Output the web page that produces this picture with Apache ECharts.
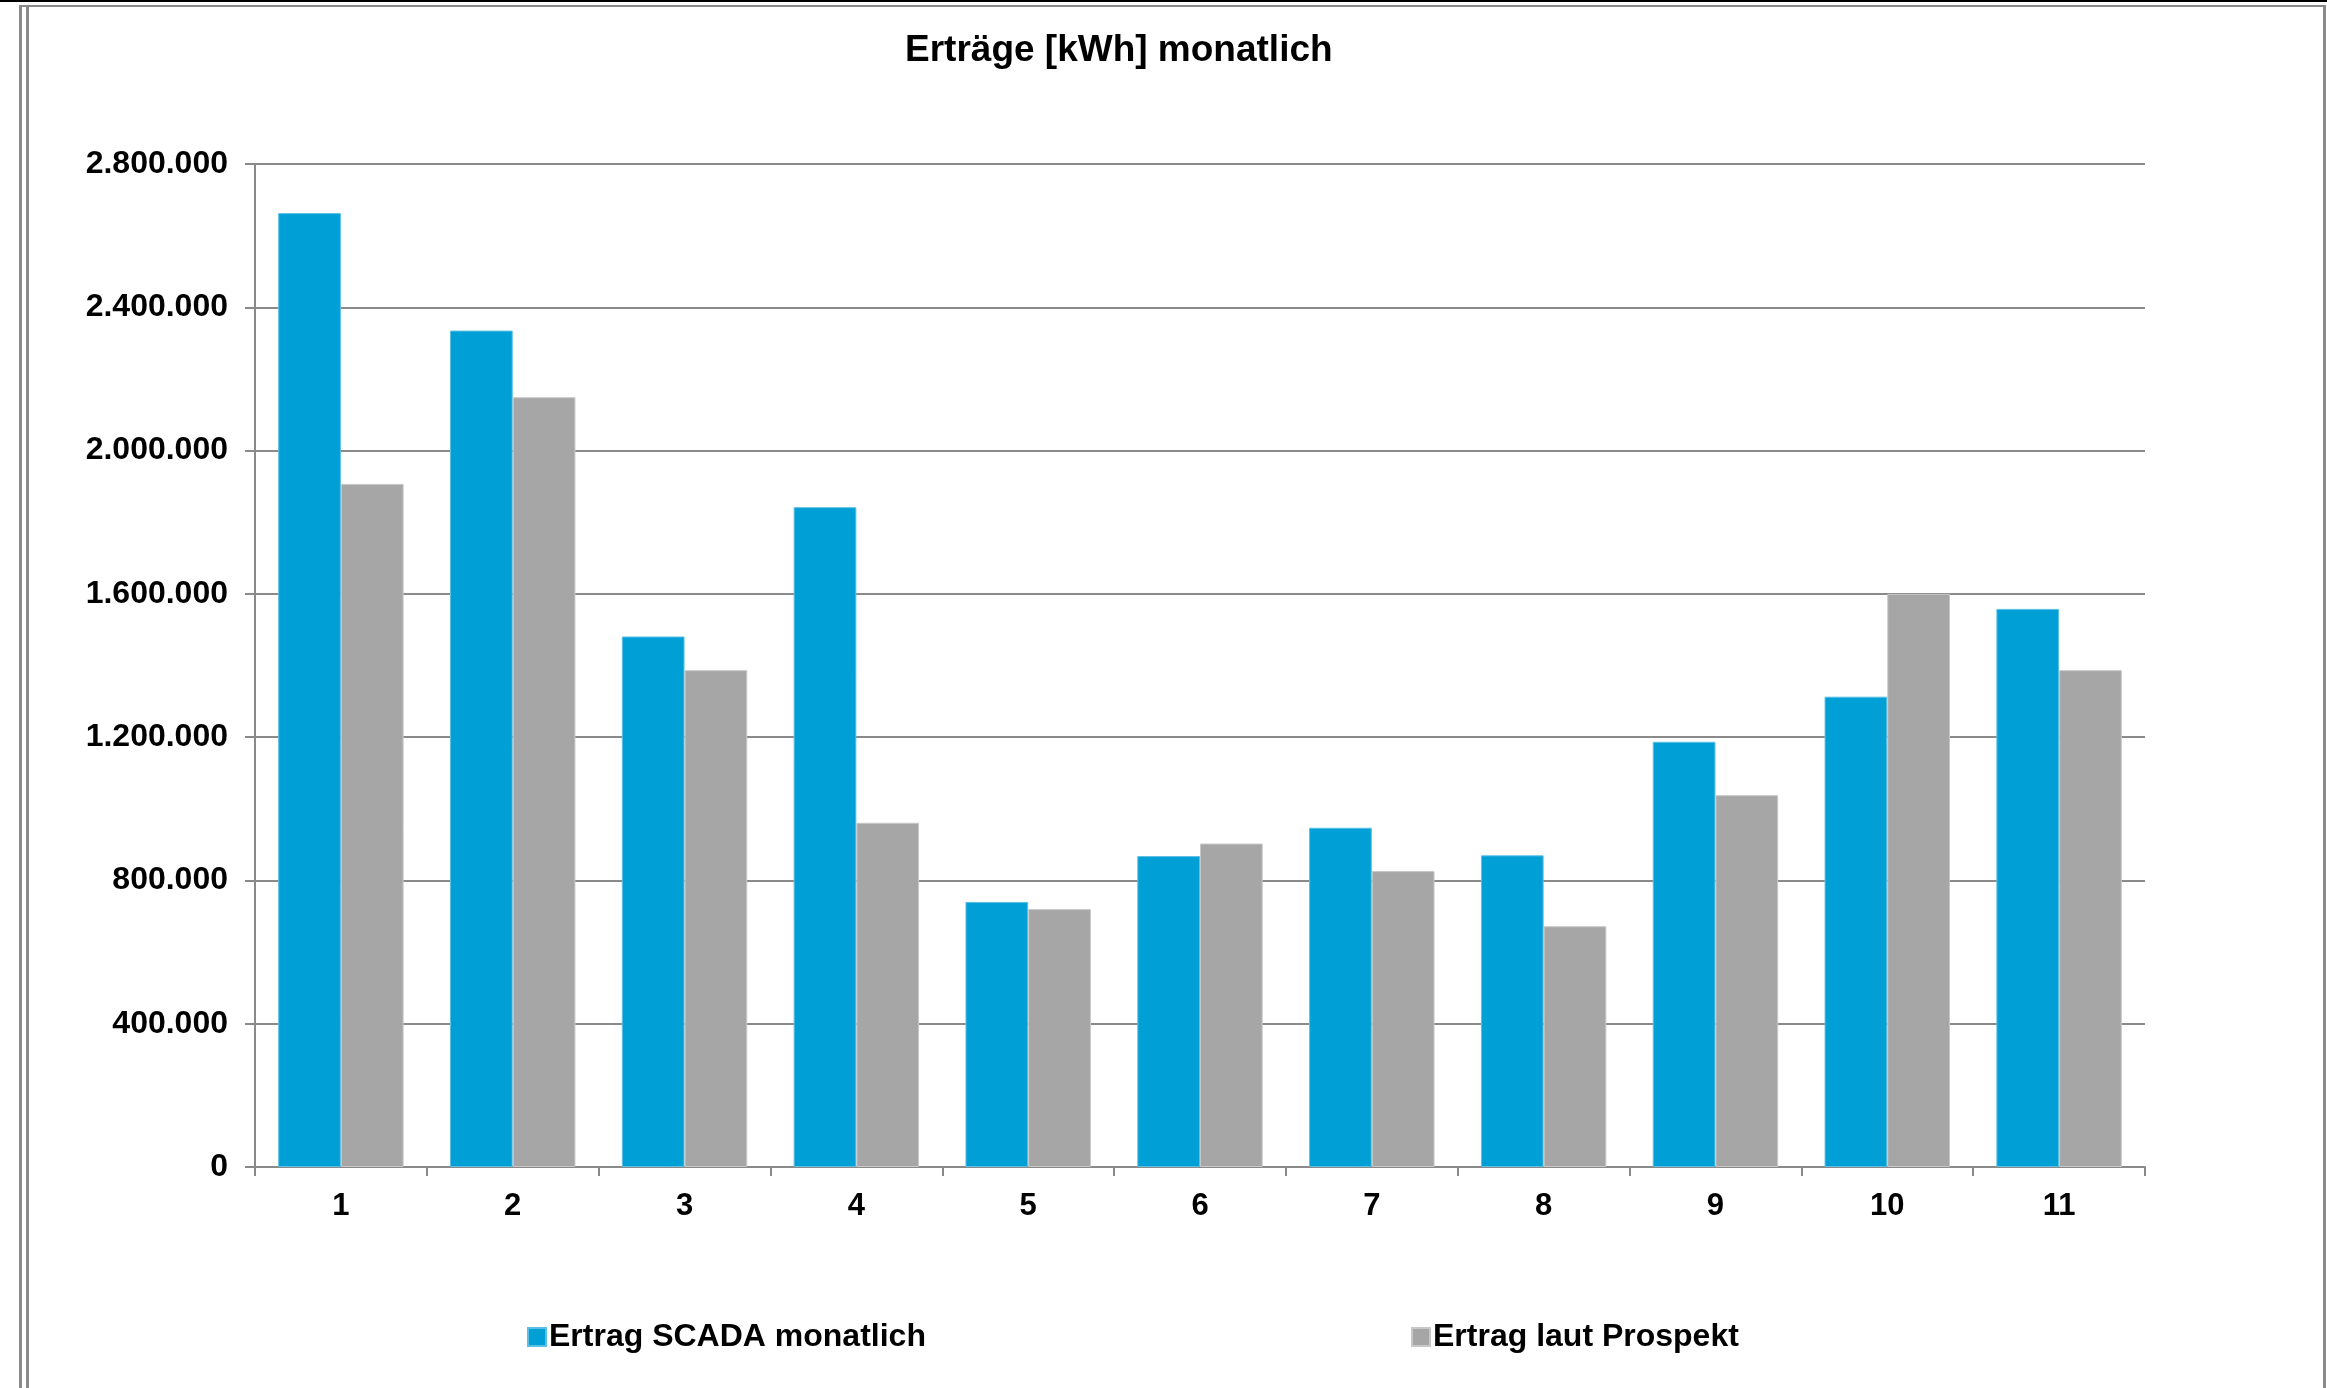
<!DOCTYPE html>
<html>
<head>
<meta charset="utf-8">
<script src="https://cdn.jsdelivr.net/npm/echarts@6/dist/echarts.min.js"></script>
<style>
html,body{margin:0;padding:0;background:#fff;}
#chart{width:2327px;height:1388px;}
</style>
</head>
<body>
<div id="chart"></div>
<script>
const titleText = 'Erträge [kWh] monatlich';
const categories = ['1','2','3','4','5','6','7','8','9','10','11'];
const seriesNames = ['Ertrag SCADA monatlich', 'Ertrag laut Prospekt'];
const scadaValues = [2663000, 2335000, 1481000, 1842000, 740000, 868000, 947000, 870000, 1187000, 1313000, 1558000];
const prospektValues = [1907000, 2149000, 1387000, 961000, 720000, 903000, 826000, 672000, 1038000, 1600000, 1387000];
const yTicks = [0, 400000, 800000, 1200000, 1600000, 2000000, 2400000, 2800000];

const FONT = 'Arial, "Liberation Sans", sans-serif';
const fmt = v => String(v).replace(/\B(?=(\d{3})+(?!\d))/g, '.');

const chart = echarts.init(document.getElementById('chart'), null, {renderer:'canvas'});
const lineCol = '#8a8a8a';
chart.setOption({
  animation: false,
  backgroundColor: '#ffffff',
  title: {
    text: titleText,
    left: 900, top: 27,
    textStyle: {fontFamily: FONT, fontWeight: 'bold', fontSize: 37, color: '#000'}
  },
  legend: [
    {
      data: [seriesNames[0]], left: 527, top: 1321, padding: 0,
      itemWidth: 18, itemHeight: 18, itemGap: 0,
      icon: 'rect',
      textStyle: {fontFamily: FONT, fontWeight: 'bold', fontSize: 32, color: '#000', padding: [0,0,0,-2]}
    },
    {
      data: [seriesNames[1]], left: 1411, top: 1321, padding: 0,
      itemWidth: 18, itemHeight: 18, itemGap: 0,
      icon: 'rect',
      textStyle: {fontFamily: FONT, fontWeight: 'bold', fontSize: 32, color: '#000', padding: [0,0,0,-2]}
    }
  ],
  grid: {left: 255, top: 164, right: 182, bottom: 221, containLabel: false},
  xAxis: {
    type: 'category',
    data: categories,
    boundaryGap: true,
    axisLine: {show: true, lineStyle: {color: lineCol, width: 2}},
    axisTick: {show: true, alignWithLabel: false, length: 9, lineStyle: {color: lineCol, width: 2}},
    axisLabel: {fontFamily: FONT, fontWeight: 'bold', fontSize: 31, color: '#000', margin: 24},
    splitLine: {show: false}
  },
  yAxis: {
    type: 'value',
    min: 0, max: 2800000, interval: 400000,
    axisLine: {show: true, lineStyle: {color: lineCol, width: 2}},
    axisTick: {show: true, length: 10, lineStyle: {color: lineCol, width: 2}},
    axisLabel: {fontFamily: FONT, fontWeight: 'bold', fontSize: 32, color: '#000', margin: 27,
      formatter: v => yTicks.includes(v) ? fmt(v) : ''},
    splitLine: {show: true, lineStyle: {color: lineCol, width: 2}}
  },
  series: [
    {
      name: seriesNames[0], type: 'bar', data: scadaValues,
      barGap: '0%', barCategoryGap: '27%',
      itemStyle: {color: '#009fd6', borderColor: '#5cc0e4', borderWidth: 1}
    },
    {
      name: seriesNames[1], type: 'bar', data: prospektValues,
      barGap: '0%', barCategoryGap: '27%',
      itemStyle: {color: '#a6a6a6', borderColor: '#c8c8c8', borderWidth: 1}
    }
  ],
  graphic: [
    {type:'rect', shape:{x:0,y:0,width:2327,height:2}, style:{fill:'#000'}, silent:true},
    {type:'rect', shape:{x:19,y:5,width:2306,height:2}, style:{fill:'#8a8a8a'}, silent:true},
    {type:'rect', shape:{x:19,y:5,width:3,height:1383}, style:{fill:'#8a8a8a'}, silent:true},
    {type:'rect', shape:{x:26,y:5,width:3,height:1383}, style:{fill:'#8a8a8a'}, silent:true},
    {type:'rect', shape:{x:2323,y:5,width:3,height:1383}, style:{fill:'#8a8a8a'}, silent:true}
  ]
});
</script>
</body>
</html>
